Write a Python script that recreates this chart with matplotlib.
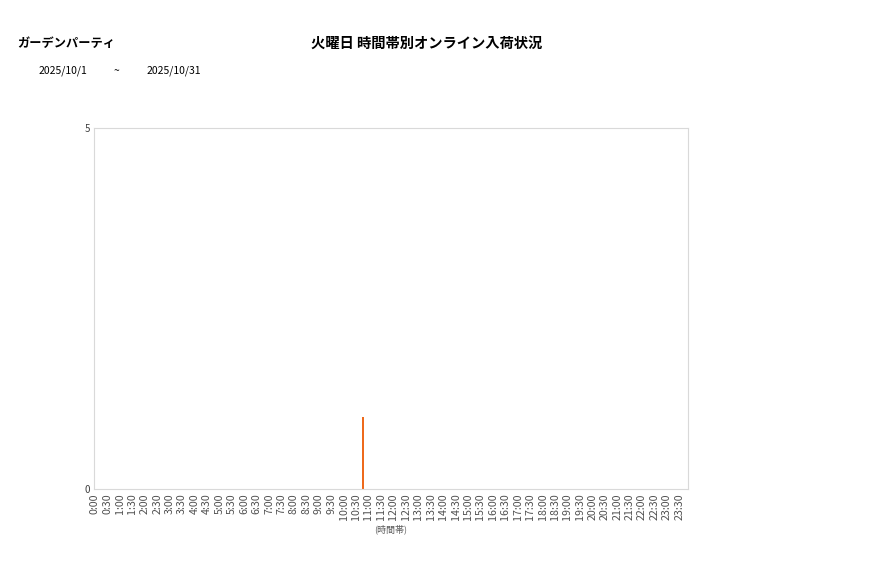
import matplotlib
matplotlib.use("Agg")
import matplotlib.pyplot as plt
import numpy as np

plt.rcParams['font.family'] = ['Noto Sans CJK JP', 'DejaVu Sans']

shop_name = "ガーデンパーティ"
chart_title = "火曜日 時間帯別オンライン入荷状況"
date_from = "2025/10/1"
date_to = "2025/10/31"

time_labels = ["%d:%02d" % (h, m) for h in range(24) for m in (0, 30)]
counts = [0] * 48
counts[time_labels.index("10:30")] = 1

y_ticks = [0, 5]

fig = plt.figure(figsize=(8.77, 5.78), dpi=100)
ax = fig.add_axes([94 / 877, 89 / 578, 594 / 877, 361 / 578])

x = np.arange(len(time_labels))
ax.bar(x + 0.55, counts, width=0.22, color="#EE6A1C")

ax.set_xlim(-0.08, 47.7)
ax.set_ylim(0, 5)
ax.set_xticks(x)
ax.set_xticklabels(time_labels, rotation=90, fontsize=7.7, color="#505050")
ax.set_yticks(y_ticks)
ax.set_yticklabels([str(v) for v in y_ticks], fontsize=7, color="#404040")
ax.tick_params(length=0, pad=3)
for s in ax.spines.values():
    s.set_color("#d9d9d9")
ax.set_xlabel("(時間帯)", fontsize=6.5, color="#595959", labelpad=3)

fig.text(17 / 877, 1 - 44 / 578, shop_name, fontsize=8.8, fontweight="bold",
         va="center", ha="left")
fig.text(427 / 877, 1 - 44 / 578, chart_title, fontsize=10.3, fontweight="bold",
         va="center", ha="center")
fig.text(39 / 877, 1 - 71 / 578, date_from, fontsize=7.5, va="center", ha="left")
fig.text(116 / 877, 1 - 71 / 578, "~", fontsize=7.5, va="center", ha="center")
fig.text(147 / 877, 1 - 71 / 578, date_to, fontsize=7.5, va="center", ha="left")

fig.savefig("out.png", dpi=100)
